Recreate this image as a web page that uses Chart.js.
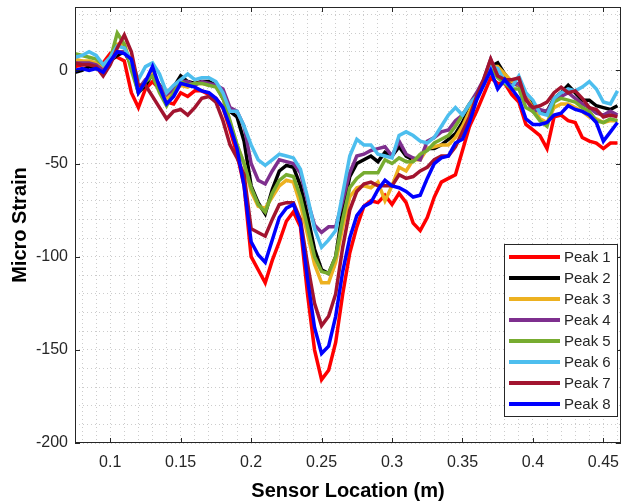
<!DOCTYPE html>
<html>
<head>
<meta charset="utf-8">
<script src="https://cdn.jsdelivr.net/npm/chart.js@4.4.1/dist/chart.umd.min.js"></script>
<style>
  html, body { margin: 0; padding: 0; background: #fff; }
</style>
</head>
<body>
<canvas id="chart" width="622" height="503"></canvas>
<script>
// sensor positions along the beam (m)
const sensorX = [0.075, 0.08, 0.085, 0.09, 0.095, 0.1, 0.105, 0.11, 0.115, 0.12,
    0.125, 0.13, 0.135, 0.14, 0.145, 0.15, 0.155, 0.16, 0.165, 0.17,
    0.175, 0.18, 0.185, 0.19, 0.195, 0.2, 0.205, 0.21, 0.215, 0.22,
    0.225, 0.23, 0.235, 0.24, 0.245, 0.25, 0.255, 0.26, 0.265, 0.27,
    0.275, 0.28, 0.285, 0.29, 0.295, 0.3, 0.305, 0.31, 0.315, 0.32,
    0.325, 0.33, 0.335, 0.34, 0.345, 0.35, 0.355, 0.36, 0.365, 0.37,
    0.375, 0.38, 0.385, 0.39, 0.395, 0.4, 0.405, 0.41, 0.415, 0.42,
    0.425, 0.43, 0.435, 0.44, 0.445, 0.45, 0.455, 0.46];

// micro strain per peak
const peak1 = [2, 3, 3, 3, 4, 9, 7, 5, -12, -20,
    -10, -6, -10, -17, -18, -12, -14, -11, -11, -13,
    -15, -20, -32, -45, -62, -100, -107, -114, -102, -92,
    -81, -76, -84, -120, -150, -166, -161, -146, -120, -98,
    -84, -73, -70, -71, -67, -72, -66, -71, -82, -86,
    -79, -68, -60, -58, -56, -43, -30, -22, -13, -4,
    -7, -7, -13, -17, -29, -32, -35, -42, -25, -24,
    -27, -28, -36, -38, -39, -42, -39, -39];
const peak2 = [-1, 0, 2, 1, 0, 5, 8, 10, 3, -12,
    -8, -2, -8, -12, -9, -3, -6, -7, -6, -6,
    -8, -15, -22, -25, -38, -62, -71, -77, -64, -54,
    -51, -52, -62, -78, -96, -107, -109, -100, -75, -57,
    -50, -48, -46, -49, -44, -46, -41, -46, -48, -47,
    -42, -42, -40, -37, -34, -28, -20, -13, -7, 2,
    4, -2, -7, -8, -15, -18, -22, -22, -15, -12,
    -8, -12, -16, -16, -19, -20, -21, -19];
const peak3 = [6, 5, 5, 4, 2, 6, 14, 14, 3, -10,
    -6, -2, -10, -15, -12, -8, -9, -7, -7, -8,
    -8, -14, -28, -40, -50, -65, -73, -74, -68, -62,
    -59, -60, -72, -88, -104, -114, -114, -103, -84, -68,
    -63, -62, -63, -60, -70, -62, -52, -54, -48, -48,
    -42, -41, -40, -40, -36, -30, -22, -13, -7, 2,
    2, -2, -6, -8, -14, -20, -26, -28, -20, -18,
    -18, -20, -22, -25, -26, -28, -27, -27];
const peak4 = [4, 4, 4, 3, 0, 4, 10, 10, 3, -10,
    -5, -3, -8, -13, -10, -6, -6, -8, -6, -7,
    -8, -10, -20, -22, -30, -50, -59, -61, -54, -48,
    -49, -50, -55, -70, -83, -87, -84, -84, -70, -55,
    -46, -45, -43, -42, -41, -46, -38, -45, -47, -48,
    -38, -36, -33, -32, -27, -24, -18, -12, -5, 6,
    -3, -6, -8, -7, -15, -22, -21, -22, -16, -14,
    -12, -15, -18, -20, -23, -24, -22, -24];
const peak5 = [9, 8, 7, 6, 3, 6, 20, 14, 0, -12,
    -6, -3, -12, -19, -12, -6, -8, -7, -7, -8,
    -9, -15, -27, -40, -50, -63, -72, -76, -66, -59,
    -56, -57, -68, -84, -100, -108, -109, -100, -80, -63,
    -58, -55, -55, -55, -48, -50, -47, -49, -49, -45,
    -43, -39, -37, -35, -30, -24, -18, -14, -7, 2,
    -4, -7, -10, -10, -20, -22, -27, -30, -17, -15,
    -16, -17, -20, -22, -27, -28, -26, -27];
const peak6 = [7, 8, 10, 8, 3, 7, 13, 12, 5, -5,
    2, 4, -2, -12, -8, -5, -2, -5, -4, -4,
    -6, -12, -22, -22, -30, -40, -48, -51, -48, -45,
    -46, -47, -53, -68, -85, -95, -91, -86, -66, -46,
    -37, -40, -40, -45, -46, -47, -35, -33, -35, -38,
    -39, -36, -30, -24, -20, -24, -18, -14, -8, 2,
    1, -6, -9, -3, -12, -16, -23, -24, -15, -12,
    -10, -11, -9, -6, -10, -17, -18, -11];
const peak7 = [4, 3, 3, 2, -3, 3, 12, 19, 10, -8,
    -8, -14, -20, -26, -22, -21, -24, -20, -15, -14,
    -17, -27, -40, -47, -56, -85, -87, -89, -80, -72,
    -71, -71, -80, -104, -125, -137, -132, -120, -95, -75,
    -65, -61, -60, -62, -62, -62, -56, -58, -57, -54,
    -52, -48, -46, -46, -41, -33, -25, -14, -5, 6,
    -3, -5, -5, -4, -16, -20, -19, -17, -12, -9,
    -12, -11, -15, -20, -21, -25, -24, -25];
const peak8 = [0, 1, 0, 1, -1, 5, 10, 9, 6, -12,
    -6, 2, -9, -18, -14, -7, -8, -9, -11, -12,
    -15, -20, -30, -42, -62, -92, -99, -103, -91, -79,
    -74, -72, -82, -112, -138, -152, -148, -132, -108, -90,
    -78, -73, -71, -64, -59, -62, -63, -65, -68, -67,
    -58, -50, -47, -46, -39, -37, -28, -16, -8, 0,
    -10, -5, -10, -15, -26, -29, -29, -28, -24, -23,
    -19, -21, -22, -24, -28, -38, -33, -28];

const seriesNames = ['Peak 1', 'Peak 2', 'Peak 3', 'Peak 4', 'Peak 5', 'Peak 6', 'Peak 7', 'Peak 8'];
const seriesValues = [peak1, peak2, peak3, peak4, peak5, peak6, peak7, peak8];

// axis ticks and grid lines
const xTickLabels = [0.1, 0.15, 0.2, 0.25, 0.3, 0.35, 0.4, 0.45];
const xGridLines = [0.08, 0.09, 0.1, 0.11, 0.12, 0.13, 0.14, 0.15, 0.16, 0.17,
    0.18, 0.19, 0.2, 0.21, 0.22, 0.23, 0.24, 0.25, 0.26, 0.27,
    0.28, 0.29, 0.3, 0.31, 0.32, 0.33, 0.34, 0.35, 0.36, 0.37,
    0.38, 0.39, 0.4, 0.41, 0.42, 0.43, 0.44, 0.45, 0.46];
const yTickLabels = [0, -50, -100, -150, -200];
const yGridLines = [30, 20, 10, 0, -10, -20, -30, -40, -50, -60, -70, -80, -90, -100,
    -110, -120, -130, -140, -150, -160, -170, -180, -190, -200];

const colors = ['#ff0000', '#000000', '#EDB120', '#7E2F8E', '#77AC30', '#4DBEEE', '#A2142F', '#0000ff'];
const axisColor = '#262626';
const fontFamily = '"Liberation Sans", Arial, Helvetica, sans-serif';

function isLabelled(list, v) {
    return list.find(t => Math.abs(t - v) < 1e-9);
}

// no extra room for overhanging tick labels, the box is fixed like in matlab
function noOverhang(s) {
    s.paddingTop = 0;
    s.paddingBottom = 0;
    s.paddingLeft = 0;
    s.paddingRight = 0;
}

// box, inward tick marks and legend, drawn like the matlab figure
const framePlugin = {
    id: 'frame',
    afterDraw(chart) {
        const ctx = chart.ctx;
        const ca = chart.chartArea;
        const xs = chart.scales.x;
        const ys = chart.scales.y;
        ctx.save();
        ctx.strokeStyle = axisColor;
        ctx.lineWidth = 1;
        ctx.strokeRect(ca.left + 0.5, ca.top + 0.5, ca.right - ca.left - 1, ca.bottom - ca.top - 1);

        ctx.beginPath();
        xTickLabels.forEach(v => {
            const px = Math.round(xs.getPixelForValue(v)) + 0.5;
            ctx.moveTo(px, ca.bottom);
            ctx.lineTo(px, ca.bottom - 5);
            ctx.moveTo(px, ca.top);
            ctx.lineTo(px, ca.top + 5);
        });
        yTickLabels.forEach(v => {
            const py = Math.round(ys.getPixelForValue(v)) + 0.5;
            ctx.moveTo(ca.left, py);
            ctx.lineTo(ca.left + 5, py);
            ctx.moveTo(ca.right, py);
            ctx.lineTo(ca.right - 5, py);
        });
        ctx.stroke();

        // legend
        const lx = ca.right - 117;
        const ly = ca.bottom - 199;
        const lw = 113;
        const lh = 172;
        ctx.fillStyle = '#ffffff';
        ctx.fillRect(lx, ly, lw, lh);
        ctx.strokeStyle = axisColor;
        ctx.strokeRect(lx + 0.5, ly + 0.5, lw, lh);
        ctx.font = '15px ' + fontFamily;
        ctx.textBaseline = 'middle';
        ctx.textAlign = 'left';
        seriesNames.forEach((name, i) => {
            const y = ly + 13 + i * 21;
            ctx.strokeStyle = colors[i];
            ctx.lineWidth = 4;
            ctx.beginPath();
            ctx.moveTo(lx + 5, y);
            ctx.lineTo(lx + 56, y);
            ctx.stroke();
            ctx.fillStyle = axisColor;
            ctx.fillText(name, lx + 60, y + 1);
        });
        ctx.restore();
    }
};

const datasets = seriesValues.map((vals, i) => ({
    label: seriesNames[i],
    data: sensorX.map((x, j) => ({ x: x, y: vals[j] })),
    borderColor: colors[i],
    backgroundColor: colors[i],
    borderWidth: 3.5,
    pointRadius: 0,
    tension: 0,
    fill: false,
    order: seriesNames.length - i // later peaks drawn on top
}));

new Chart(document.getElementById('chart'), {
    type: 'line',
    data: { datasets: datasets },
    options: {
        responsive: false,
        animation: false,
        devicePixelRatio: 1,
        layout: { padding: { top: 7, right: 1, left: 0, bottom: 0 } },
        plugins: {
            legend: { display: false },
            tooltip: { enabled: false }
        },
        scales: {
            x: {
                type: 'linear',
                min: 0.075,
                max: 0.4625,
                afterBuildTicks: s => { s.ticks = xGridLines.map(v => ({ value: v })); },
                afterFit: s => { s.height = 60; noOverhang(s); },
                ticks: {
                    autoSkip: false,
                    maxRotation: 0,
                    minRotation: 0,
                    padding: 10,
                    color: axisColor,
                    font: { family: fontFamily, size: 16 },
                    callback: v => {
                        const t = isLabelled(xTickLabels, v);
                        return t === undefined ? '' : String(t);
                    }
                },
                grid: { color: 'rgba(0,0,0,0.2)', drawTicks: false, lineWidth: 1 },
                border: { display: false, dash: [1, 3] },
                title: {
                    display: true,
                    text: 'Sensor Location (m)',
                    color: '#000',
                    font: { family: fontFamily, size: 20, weight: 'bold', lineHeight: 1.2 },
                    padding: { top: 0, bottom: 0 }
                }
            },
            y: {
                min: -200,
                max: 34,
                afterBuildTicks: s => { s.ticks = yGridLines.map(v => ({ value: v })); },
                afterFit: s => { s.width = 75; noOverhang(s); },
                ticks: {
                    autoSkip: false,
                    padding: 7,
                    color: axisColor,
                    font: { family: fontFamily, size: 16 },
                    callback: v => {
                        const t = isLabelled(yTickLabels, v);
                        return t === undefined ? '' : String(t);
                    }
                },
                grid: { color: 'rgba(0,0,0,0.2)', drawTicks: false, lineWidth: 1 },
                border: { display: false, dash: [1, 3] },
                title: {
                    display: true,
                    text: 'Micro Strain',
                    color: '#000',
                    font: { family: fontFamily, size: 20, weight: 'bold', lineHeight: 1.2 },
                    padding: { top: 8, bottom: 0 }
                }
            }
        }
    },
    plugins: [framePlugin]
});
</script>
</body>
</html>
